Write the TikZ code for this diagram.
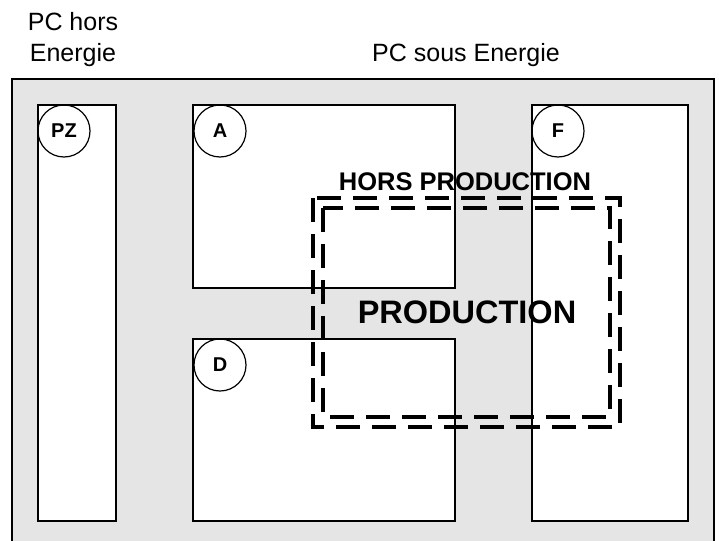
\documentclass[tikz,border=0pt]{standalone}
\usepackage{fontspec}
\setmainfont{Liberation Sans}
\begin{document}
\begin{tikzpicture}[x=1pt,y=-1pt,
  zone/.style={draw=black,line width=1.5pt,fill=white},
  tag/.style={draw=black,line width=1.2pt,circle,minimum size=52pt,inner sep=0pt,fill=none,font=\fontsize{20}{23}\selectfont\bfseries},
  lbl/.style={font=\fontsize{25}{31}\selectfont,align=center},
  dashbox/.style={draw=black,line width=3.4pt,dash pattern=on 24pt off 12pt}]
\useasboundingbox (0,0) rectangle (719,540);
\begin{scope}
\clip (0,0) rectangle (719,540);
\draw[fill=black!10,line width=1.5pt] (12,79) rectangle (714,560);
\end{scope}
\node[lbl] (pchors) at (73,40) {PC hors\\Energie};
\node[lbl] (pcsous) at (466,55) {PC sous Energie};
\draw[zone] (38,105) rectangle (116,521);
\draw[zone] (193,105) rectangle (455,288);
\draw[zone] (193,339) rectangle (455,521);
\draw[zone] (532,105) rectangle (688,521);
\node[tag] (pz) at (64,131) {PZ};
\node[tag] (a) at (220,131) {A};
\node[tag] (d) at (220,365) {D};
\node[tag] (f) at (558,131) {F};
\draw[dashbox] (313,198) rectangle (620,427);
\draw[dashbox] (323,208) rectangle (610,417);
\node[font=\fontsize{25.5}{29}\selectfont\bfseries] (hp) at (465,182) {HORS PRODUCTION};
\node[font=\fontsize{32.5}{36}\selectfont\bfseries] (prod) at (467,312) {PRODUCTION};
\end{tikzpicture}
\end{document}
